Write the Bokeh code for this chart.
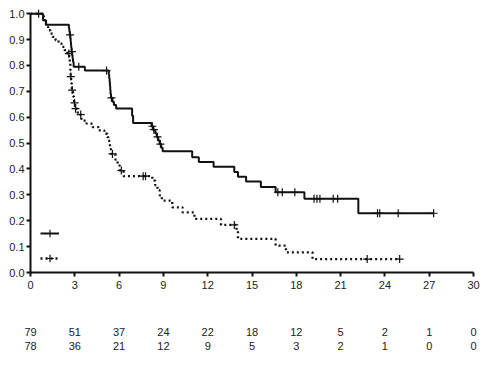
import numpy as np
from bokeh.plotting import figure
from bokeh.models import (Range1d, LinearAxis, FixedTicker, NumeralTickFormatter,
                          Legend, LegendItem)
from bokeh.embed import file_html
from bokeh.resources import INLINE

# ---------------- data ----------------
x_ticks = [0, 3, 6, 9, 12, 15, 18, 21, 24, 27, 30]
y_ticks = [0.0, 0.1, 0.2, 0.3, 0.4, 0.5, 0.6, 0.7, 0.8, 0.9, 1.0]

at_risk_solid = [79, 51, 37, 24, 22, 18, 12, 5, 2, 1, 0]
at_risk_dotted = [78, 36, 21, 12, 9, 5, 3, 2, 1, 0, 0]

# solid curve: event times (months) and survival after each step
solid_time = [0.0, 0.85, 1.05, 2.60, 2.63, 2.66, 2.70, 2.72, 2.74, 2.76, 2.78,
              2.82, 2.85, 2.88, 2.92, 3.68, 5.30, 5.33, 5.36, 5.38, 5.40, 5.42,
              5.45, 5.55, 5.65, 5.80, 6.88, 6.95, 8.20, 8.30, 8.45, 8.55, 8.65,
              8.75, 8.85, 8.95, 10.95, 11.40, 12.40, 13.80, 14.05, 14.60, 15.60,
              16.60, 18.55, 22.20]
solid_surv = [1.000, 0.975, 0.957, 0.944, 0.931, 0.918, 0.905, 0.892, 0.879, 0.866, 0.853,
              0.840, 0.827, 0.813, 0.795, 0.780, 0.765, 0.750, 0.735, 0.720, 0.705, 0.690,
              0.675, 0.660, 0.647, 0.634, 0.606, 0.578, 0.565, 0.552, 0.538, 0.524, 0.510,
              0.496, 0.482, 0.468, 0.445, 0.427, 0.409, 0.388, 0.370, 0.352, 0.330,
              0.310, 0.285, 0.229]
solid_last = 27.3
solid_censor = [0.55, 2.68, 2.80, 3.27, 5.15, 5.48, 8.25, 8.35, 8.60, 8.80,
                16.75, 17.05, 17.90, 19.20, 19.40, 19.60, 20.50, 20.80,
                23.50, 23.65, 24.90, 27.30]

# dotted curve
dotted_time = [0.0, 0.90, 0.95, 1.00, 1.05, 1.20, 1.35, 1.50, 1.70, 1.90, 2.10,
               2.30, 2.50, 2.62, 2.66, 2.70, 2.72, 2.75, 2.80, 2.88, 2.95, 3.02,
               3.20, 3.45, 3.80, 4.20, 4.60, 5.00, 5.20, 5.28, 5.33, 5.38, 5.45,
               5.75, 5.90, 6.05, 6.30, 8.25, 8.45, 8.60, 8.75, 8.90, 9.60, 10.30,
               11.10, 12.90, 13.95, 14.05, 16.60, 17.30, 19.10]
dotted_surv = [1.000, 0.987, 0.974, 0.962, 0.949, 0.936, 0.923, 0.910, 0.897, 0.885, 0.872,
               0.859, 0.846, 0.833, 0.808, 0.782, 0.757, 0.731, 0.705, 0.680, 0.655, 0.633,
               0.610, 0.587, 0.575, 0.562, 0.549, 0.536, 0.523, 0.510, 0.497, 0.484, 0.458,
               0.436, 0.413, 0.394, 0.372, 0.355, 0.337, 0.318, 0.298, 0.278, 0.252, 0.232,
               0.207, 0.184, 0.157, 0.130, 0.104, 0.078, 0.052]
dotted_last = 25.0
dotted_censor = [2.60, 2.73, 2.82, 2.98, 3.05, 3.40, 5.55, 6.15, 7.63, 7.79,
                 13.80, 22.80, 25.00]

# ---------------- figure ----------------
FONT = "Liberation Sans"
TXT = "#222222"

p = figure(width=500, height=375, x_range=Range1d(0, 30), y_range=Range1d(0, 1.02),
           output_backend="svg", toolbar_location=None,
           x_axis_type=None, y_axis_type=None,
           min_border_left=30, min_border_right=27, min_border_top=8, min_border_bottom=103)
p.outline_line_color = None
p.background_fill_color = "white"
p.border_fill_color = "white"


def step_xy(t, s, last):
    return list(t) + [last], list(s) + [s[-1]]


def censor_y(t, s, c):
    idx = np.searchsorted(np.array(t), np.array(c), side="right") - 1
    return [s[i] for i in idx]


sx, sy = step_xy(solid_time, solid_surv, solid_last)
dx, dy = step_xy(dotted_time, dotted_surv, dotted_last)

r_dot = p.step(dx, dy, mode="after", line_color="#111111", line_width=2.3,
               line_dash="2 3")
r_sol = p.step(sx, sy, mode="after", line_color="#111111", line_width=2)
m_dot = p.scatter(dotted_censor, censor_y(dotted_time, dotted_surv, dotted_censor),
                  marker="cross", size=8, line_color="#111111", line_width=1.2)
m_sol = p.scatter(solid_censor, censor_y(solid_time, solid_surv, solid_censor),
                  marker="cross", size=8, line_color="#111111", line_width=1.2)

# axes
yaxis = LinearAxis(ticker=FixedTicker(ticks=y_ticks),
                   formatter=NumeralTickFormatter(format="0.0"), bounds=(0, 1))
xaxis = LinearAxis(ticker=FixedTicker(ticks=x_ticks))
for ax in (yaxis, xaxis):
    ax.axis_line_width = 2
    ax.axis_line_color = "#111111"
    ax.major_tick_line_width = 2
    ax.major_tick_line_color = "#111111"
    ax.major_tick_in = 0
    ax.major_tick_out = 4
    ax.minor_tick_line_color = None
    ax.major_label_text_font = FONT
    ax.major_label_text_font_size = "11px"
    ax.major_label_text_color = TXT
yaxis.major_label_standoff = 2
xaxis.major_label_standoff = 4
p.add_layout(yaxis, "left")
p.add_layout(xaxis, "below")

# numbers at risk rows as extra label-only axes
for counts, standoff in ((at_risk_solid, 36), (at_risk_dotted, 3)):
    ax = LinearAxis(ticker=FixedTicker(ticks=x_ticks),
                    major_label_overrides={t: str(n) for t, n in zip(x_ticks, counts)})
    ax.axis_line_color = None
    ax.major_tick_line_color = None
    ax.minor_tick_line_color = None
    ax.major_tick_in = 0
    ax.major_tick_out = 0
    ax.major_label_standoff = standoff
    ax.major_label_text_font = FONT
    ax.major_label_text_font_size = "11px"
    ax.major_label_text_color = TXT
    p.add_layout(ax, "below")

legend = Legend(items=[LegendItem(label=" ", renderers=[r_sol, m_sol]),
                       LegendItem(label=" ", renderers=[r_dot, m_dot])],
                location=(10, 3), padding=0, margin=0, spacing=3,
                glyph_width=19, glyph_height=22, label_width=0, label_standoff=0,
                label_text_font_size="1px", border_line_color=None,
                background_fill_alpha=0)
p.add_layout(legend)

open("out.html", "w").write(file_html(p, INLINE))
